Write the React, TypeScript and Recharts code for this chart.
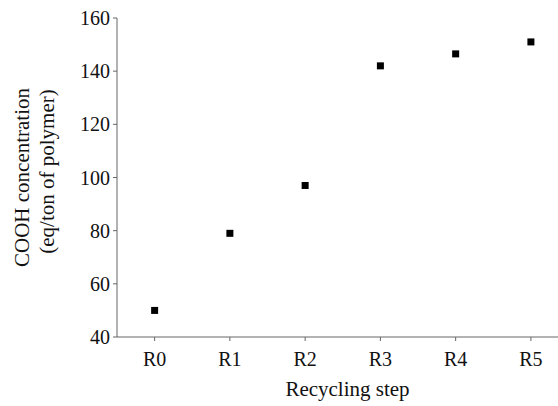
import React from 'react';
import { ScatterChart, Scatter, XAxis, YAxis, Label } from 'recharts';

const steps = ['R0', 'R1', 'R2', 'R3', 'R4', 'R5'];
const cooh = [50, 79, 97, 142, 146.5, 151];
const yTicks = [40, 60, 80, 100, 120, 140, 160];
const yLabelLines = ['COOH concentration', '(eq/ton of polymer)'];
const xLabel = 'Recycling step';

const data = steps.map((s, i) => ({ x: i, y: cooh[i], name: s }));

const FONT = '"Liberation Serif", "Times New Roman", serif';

const Square = (props: any) => {
  const { cx, cy } = props;
  if (cx == null || cy == null) return null;
  return <rect x={cx - 3.5} y={cy - 3.5} width={7} height={7} fill="#000" />;
};

const YLabel = (props: any) => {
  const vb = props.viewBox || {};
  const cy = (vb.y ?? 18) + (vb.height ?? 319) / 2;
  const x1 = 29;
  const x2 = 54;
  return (
    <g>
      <text x={x1} y={cy} transform={`rotate(-90, ${x1}, ${cy})`} textAnchor="middle" fontFamily={FONT} fontSize={21} fill="#111">
        {yLabelLines[0]}
      </text>
      <text x={x2} y={cy - 6} transform={`rotate(-90, ${x2}, ${cy - 6})`} textAnchor="middle" fontFamily={FONT} fontSize={21} fill="#111">
        {yLabelLines[1]}
      </text>
    </g>
  );
};

const XLabel = (props: any) => {
  const vb = props.viewBox || {};
  const cx = (vb.x ?? 117) + (vb.width ?? 441) / 2 + 10;
  return (
    <text x={cx} y={396} textAnchor="middle" fontFamily={FONT} fontSize={21} fill="#111">
      {xLabel}
    </text>
  );
};

export default function App() {
  return (
    <div style={{ position: 'absolute', left: 0, top: 0, width: 558, height: 406, background: '#fff' }}>
      <ScatterChart width={558} height={406} margin={{ top: 18, right: 0, left: 0, bottom: 0 }}>
        <XAxis
          type="number"
          dataKey="x"
          domain={[-0.5, 5.36]}
          ticks={[0, 1, 2, 3, 4, 5]}
          tickFormatter={(v: number) => steps[v] ?? ''}
          allowDataOverflow
          height={69}
          stroke="#666"
          tickSize={4}
          tick={{ fill: '#111', fontFamily: FONT, fontSize: 20 }}
          tickMargin={11}
          label={<XLabel />}
        />
        <YAxis
          type="number"
          dataKey="y"
          domain={[40, 160]}
          ticks={yTicks}
          allowDataOverflow
          width={117}
          stroke="#666"
          tickSize={4}
          tick={{ fill: '#111', fontFamily: FONT, fontSize: 20 }}
          tickMargin={3}
          label={<YLabel />}
        />
        <Scatter data={data} shape={<Square />} isAnimationActive={false} />
      </ScatterChart>
    </div>
  );
}
